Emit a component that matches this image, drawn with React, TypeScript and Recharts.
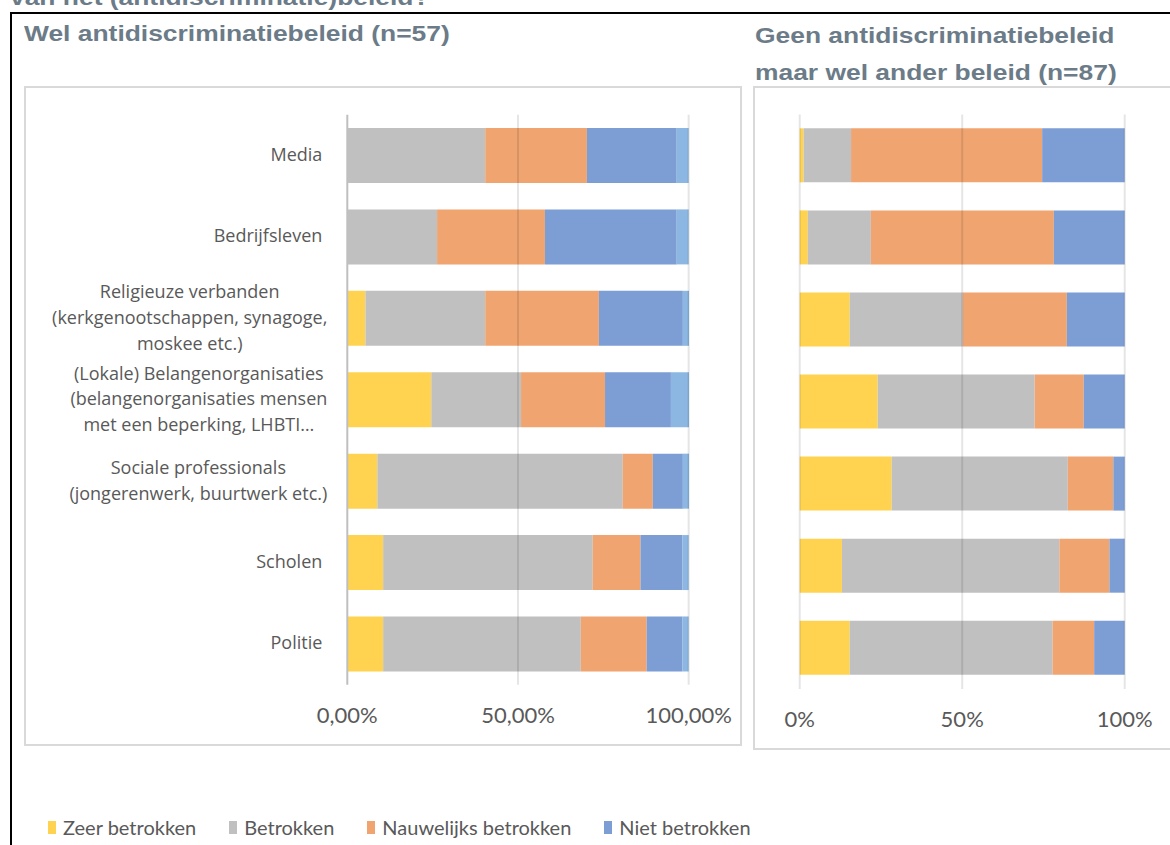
import React from "react"
import { Bar, BarChart, ReferenceLine, XAxis, YAxis } from "recharts"

const categories = [
  "Media",
  "Bedrijfsleven",
  "Religieuze verbanden\n(kerkgenootschappen, synagoge,\nmoskee etc.)",
  "(Lokale) Belangenorganisaties\n(belangenorganisaties mensen\nmet een beperking, LHBTI…",
  "Sociale professionals\n(jongerenwerk, buurtwerk etc.)",
  "Scholen",
  "Politie",
]

// Wel antidiscriminatiebeleid (n=57), percentages
const zeerLeft = [0, 0, 5.3, 24.6, 8.8, 10.5, 10.5]
const betrokkenLeft = [40.4, 26.3, 35.1, 26.3, 71.9, 61.4, 57.9]
const nauwelijksLeft = [29.8, 31.6, 33.3, 24.6, 8.8, 14.0, 19.3]
const nietLeft = [26.3, 38.6, 24.6, 19.3, 8.8, 12.3, 10.5]
const onbekendLeft = [3.5, 3.5, 1.8, 5.3, 1.8, 1.8, 1.8]

// Geen antidiscriminatiebeleid maar wel ander beleid (n=87), percentages
const zeerRight = [1.2, 2.5, 15.4, 24.0, 28.3, 13.0, 15.4]
const betrokkenRight = [14.6, 19.4, 34.8, 48.3, 54.2, 66.9, 62.4]
const nauwelijksRight = [58.8, 56.3, 32.0, 15.1, 14.0, 15.4, 12.8]
const nietRight = [25.4, 21.8, 17.8, 12.6, 3.5, 4.7, 9.4]
const onbekendRight = [0, 0, 0, 0, 0, 0, 0]

const xTicks = [0, 50, 100]

const series = [
  { key: "zeer", name: "Zeer betrokken", color: "#FFD350" },
  { key: "betrokken", name: "Betrokken", color: "#C0C0C0" },
  { key: "nauwelijks", name: "Nauwelijks betrokken", color: "#F0A470" },
  { key: "niet", name: "Niet betrokken", color: "#7D9DD5" },
  { key: "onbekend", name: "Onbekend", color: "#8BB7E2" },
]

const leftData = categories.map((name, i) => ({
  name,
  zeer: zeerLeft[i],
  betrokken: betrokkenLeft[i],
  nauwelijks: nauwelijksLeft[i],
  niet: nietLeft[i],
  onbekend: onbekendLeft[i],
}))

const rightData = categories.map((name, i) => ({
  name,
  zeer: zeerRight[i],
  betrokken: betrokkenRight[i],
  nauwelijks: nauwelijksRight[i],
  niet: nietRight[i],
  onbekend: onbekendRight[i],
}))

const TITLE_COLOR = "#6b7b88"
const TEXT_COLOR = "#595959"
const LABEL_FONT = "18px 'Open Sans'"

const ctx = typeof document !== "undefined" ? document.createElement("canvas").getContext("2d") : null
const textWidth = (s: string) => {
  if (!ctx) return s.length * 9
  ctx.font = LABEL_FONT
  return ctx.measureText(s).width
}

const CategoryTick = (props: any) => {
  const { x, y, payload } = props
  const lines = String(payload.value).split("\n")
  const lh = 25.7
  const base = y + 5.5 - ((lines.length - 1) * lh) / 2
  const style = { fontFamily: "'Open Sans'", fontSize: 18, fill: TEXT_COLOR }
  if (lines.length === 1) {
    return (
      <text x={x} y={base} textAnchor="end" style={style}>
        {lines[0]}
      </text>
    )
  }
  const w = Math.max(...lines.map(textWidth))
  const cx = x + 5 - w / 2
  return (
    <text textAnchor="middle" style={style}>
      {lines.map((l, i) => (
        <tspan key={i} x={cx} y={base + i * lh}>
          {l}
        </tspan>
      ))}
    </text>
  )
}

const tickStyle = { fontFamily: "Lato", fontSize: 22, fill: TEXT_COLOR }

const titleStyle: React.CSSProperties = {
  position: "absolute",
  fontFamily: "'Liberation Sans', Arial, sans-serif",
  fontWeight: "bold",
  fontSize: 22,
  lineHeight: "37px",
  color: TITLE_COLOR,
  whiteSpace: "nowrap",
  transform: "scaleX(1.2)",
  transformOrigin: "0 0",
}

const bars = () =>
  series.map((s) => (
    <Bar key={s.key} dataKey={s.key} name={s.name} stackId="a" fill={s.color} isAnimationActive={false} />
  ))

export default function App() {
  return (
    <div
      style={{
        position: "absolute",
        left: 0,
        top: 0,
        width: 1170,
        height: 845,
        overflow: "hidden",
        background: "#fff",
      }}
    >
      <div style={{ ...titleStyle, left: 10, top: -21 }}>van het (antidiscriminatie)beleid?</div>
      <div
        style={{
          position: "absolute",
          left: 10,
          top: 12,
          width: 1300,
          height: 900,
          borderLeft: "2px solid #000",
          borderTop: "2px solid #000",
        }}
      />
      <div style={{ ...titleStyle, left: 24, top: 15.4 }}>Wel antidiscriminatiebeleid (n=57)</div>
      <div style={{ ...titleStyle, left: 755, top: 17.4 }}>
        Geen antidiscriminatiebeleid
        <br />
        maar wel ander beleid (n=87)
      </div>

      <div
        style={{
          position: "absolute",
          left: 24,
          top: 86,
          width: 718,
          height: 660,
          border: "2px solid #d9d9d9",
          boxSizing: "border-box",
        }}
      />
      <div
        style={{
          position: "absolute",
          left: 753,
          top: 86,
          width: 500,
          height: 664,
          border: "2px solid #d9d9d9",
          boxSizing: "border-box",
        }}
      />

      <div style={{ position: "absolute", left: 24, top: 86 }}>
        <BarChart
          width={718}
          height={660}
          data={leftData}
          layout="vertical"
          barCategoryGap="16.2%"
          margin={{ top: 28.8, right: 53, bottom: 0, left: 0 }}
        >
          <XAxis
            type="number"
            domain={[0, 100]}
            ticks={xTicks}
            axisLine={false}
            tickLine={false}
            tickSize={0}
            tickMargin={22.5}
            height={61.3}
            tick={tickStyle}
            tickFormatter={(v: number) => `${v.toFixed(2).replace(".", ",")}%`}
          />
          <YAxis
            type="category"
            dataKey="name"
            width={323.3}
            axisLine={false}
            tickLine={false}
            tickSize={0}
            tickMargin={25}
            interval={0}
            tick={<CategoryTick />}
          />
          {bars()}
          <ReferenceLine x={0} stroke="#bfbfbf" strokeWidth={2} />
          <ReferenceLine x={50} stroke="#000" strokeOpacity={0.1} strokeWidth={2} />
          <ReferenceLine x={100} stroke="#000" strokeOpacity={0.1} strokeWidth={2} />
        </BarChart>
      </div>

      <div style={{ position: "absolute", left: 753, top: 86 }}>
        <BarChart
          width={417}
          height={664}
          data={rightData}
          layout="vertical"
          barCategoryGap="16.85%"
          margin={{ top: 28.5, right: 45.3, bottom: 0, left: 46.7 }}
        >
          <XAxis
            type="number"
            domain={[0, 100]}
            ticks={xTicks}
            axisLine={false}
            tickLine={false}
            tickSize={0}
            tickMargin={22.5}
            height={61}
            tick={tickStyle}
            tickFormatter={(v: number) => `${v}%`}
          />
          <YAxis type="category" dataKey="name" hide />
          {bars()}
          <ReferenceLine x={0} stroke="#000" strokeOpacity={0.1} strokeWidth={2} />
          <ReferenceLine x={50} stroke="#000" strokeOpacity={0.1} strokeWidth={2} />
          <ReferenceLine x={100} stroke="#000" strokeOpacity={0.1} strokeWidth={2} />
        </BarChart>
      </div>

      <div
        style={{
          position: "absolute",
          left: 48,
          top: 816,
          display: "flex",
          alignItems: "flex-end",
          fontFamily: "Lato",
          fontSize: 20,
          lineHeight: "23px",
          color: TEXT_COLOR,
          whiteSpace: "nowrap",
        }}
      >
        {series.slice(0, 4).map((s) => (
          <div key={s.key} style={{ display: "flex", alignItems: "flex-end", marginRight: 33 }}>
            <span
              style={{ display: "inline-block", width: 8, height: 13, background: s.color, marginRight: 7, marginBottom: 5 }}
            />
            <span>{s.name}</span>
          </div>
        ))}
      </div>
    </div>
  )
}
